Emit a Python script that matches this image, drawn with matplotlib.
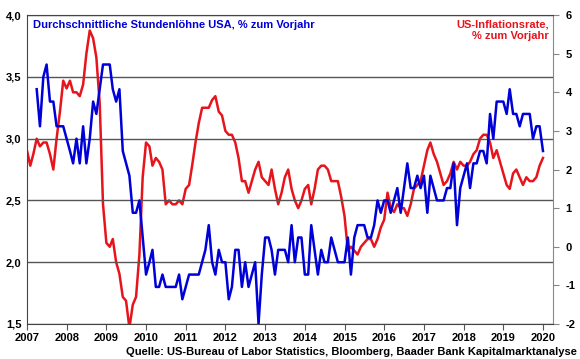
import matplotlib
matplotlib.use('Agg')
import matplotlib.pyplot as plt
import matplotlib.dates as mdates
from matplotlib.ticker import FuncFormatter, MultipleLocator
import pandas as pd

plt.rcParams['font.family'] = ['Liberation Sans', 'DejaVu Sans']
plt.rcParams['font.weight'] = 'bold'

# Durchschnittliche Stundenlöhne USA, % zum Vorjahr (Mär 2007 - Dez 2019)
loehne = [3.4, 3.1, 3.5, 3.6, 3.3, 3.3, 3.1, 3.1, 3.1, 3.0,
          2.9, 2.8, 3.0, 2.8, 3.1, 2.8, 3.0, 3.3, 3.2, 3.4, 3.6, 3.6,
          3.6, 3.4, 3.3, 3.4, 2.9, 2.8, 2.7, 2.4, 2.4, 2.5, 2.2, 1.9,
          2.0, 2.1, 1.8, 1.8, 1.9, 1.8, 1.8, 1.8, 1.8, 1.9, 1.7, 1.8,
          1.9, 1.9, 1.9, 1.9, 2.0, 2.1, 2.3, 2.0, 1.9, 2.1, 2.0, 2.0,
          1.7, 1.8, 2.1, 2.1, 1.8, 2.0, 1.8, 1.9, 2.0, 1.5, 1.9, 2.2,
          2.2, 2.1, 1.9, 2.1, 2.1, 2.1, 2.0, 2.3, 2.0, 2.2, 2.2, 1.9,
          1.9, 2.3, 2.1, 1.9, 2.1, 2.0, 2.0, 2.2, 2.1, 2.0, 2.0, 2.0,
          2.2, 1.9, 2.2, 2.3, 2.3, 2.3, 2.2, 2.2, 2.3, 2.5, 2.4, 2.5,
          2.5, 2.4, 2.5, 2.6, 2.4, 2.6, 2.8, 2.6, 2.6, 2.7, 2.6, 2.7,
          2.4, 2.7, 2.6, 2.5, 2.5, 2.5, 2.6, 2.6, 2.8, 2.3, 2.6, 2.7,
          2.8, 2.6, 2.8, 2.8, 2.9, 2.9, 2.8, 3.2, 3.0, 3.3, 3.3, 3.3,
          3.2, 3.4, 3.2, 3.2, 3.1, 3.2, 3.2, 3.2, 3.0, 3.1, 3.1, 2.9]

# US-Inflationsrate, % zum Vorjahr (Dez 2006 - Dez 2019)
inflation = [2.5,
             2.1, 2.4, 2.8, 2.6, 2.7, 2.7, 2.4, 2.0, 2.8, 3.5, 4.3, 4.1,
             4.3, 4.0, 4.0, 3.9, 4.2, 5.0, 5.6, 5.4, 4.9, 3.7, 1.1, 0.1,
             0.0, 0.2, -0.4, -0.7, -1.3, -1.4, -2.1, -1.5, -1.3, -0.2, 1.8, 2.7,
             2.6, 2.1, 2.3, 2.2, 2.0, 1.1, 1.2, 1.1, 1.1, 1.2, 1.1, 1.5,
             1.6, 2.1, 2.7, 3.2, 3.6, 3.6, 3.6, 3.8, 3.9, 3.5, 3.4, 3.0,
             2.9, 2.9, 2.7, 2.3, 1.7, 1.7, 1.4, 1.7, 2.0, 2.2, 1.8, 1.7,
             1.6, 2.0, 1.5, 1.1, 1.4, 1.8, 2.0, 1.5, 1.2, 1.0, 1.2, 1.5,
             1.6, 1.1, 1.5, 2.0, 2.1, 2.1, 2.0, 1.7, 1.7, 1.7, 1.3, 0.8,
             -0.1, 0.0, -0.1, -0.2, 0.0, 0.1, 0.2, 0.2, 0.0, 0.2, 0.5, 0.7,
             1.4, 1.0, 0.9, 1.1, 1.0, 1.0, 0.8, 1.1, 1.5, 1.6, 1.7, 2.1,
             2.5, 2.7, 2.4, 2.2, 1.9, 1.6, 1.7, 1.9, 2.2, 2.0, 2.2, 2.1,
             2.1, 2.2, 2.4, 2.5, 2.8, 2.9, 2.9, 2.7, 2.3, 2.5, 2.2, 1.9,
             1.6, 1.5, 1.9, 2.0, 1.8, 1.6, 1.8, 1.7, 1.7, 1.8, 2.1, 2.3]

# Monatsendwerte
datum_inf = pd.date_range('2007-01-01', periods=len(inflation), freq='MS') - pd.Timedelta(days=1)
datum_loehne = pd.date_range('2007-04-01', periods=len(loehne), freq='MS') - pd.Timedelta(days=1)

blau = '#0000d8'
rot = '#e8141c'

fig = plt.figure(figsize=(5.8, 3.59), dpi=100, facecolor='white')
ax = fig.add_axes([0.0466, 0.0975, 0.9068, 0.8605])
ax2 = ax.twinx()

ax.plot(datum_loehne, loehne, color=blau, lw=1.8, zorder=3)
ax2.plot(datum_inf, inflation, color=rot, lw=1.8)

# Löhne vor die Inflation legen
ax.set_zorder(ax2.get_zorder() + 1)
ax.patch.set_visible(False)

ax.set_xlim(pd.Timestamp('2007-01-01'), pd.Timestamp('2020-04-01'))
ax.set_ylim(1.5, 4.0)
ax2.set_ylim(-2, 6)

ax.yaxis.set_major_locator(MultipleLocator(0.5))
ax.yaxis.set_major_formatter(FuncFormatter(lambda v, p: ('%.1f' % v).replace('.', ',')))
ax2.yaxis.set_major_locator(MultipleLocator(1))
ax2.yaxis.set_major_formatter(FuncFormatter(lambda v, p: '%d' % v))

ax.xaxis.set_major_locator(mdates.YearLocator())
ax.xaxis.set_major_formatter(mdates.DateFormatter('%Y'))

ax.grid(axis='y', color='#555555', lw=1.0)
ax.set_axisbelow(True)

ax.tick_params(axis='y', length=0, pad=4, labelsize=8)
ax.tick_params(axis='x', length=4, width=0.8, color='#555555', pad=2.5, labelsize=8)
ax2.tick_params(axis='y', length=4, width=0.8, color='#888888', pad=5, labelsize=8)

for s in ['left', 'bottom', 'top']:
    ax.spines[s].set_color('#444444')
ax.spines['right'].set_visible(False)
for s in ['left', 'bottom', 'top']:
    ax2.spines[s].set_visible(False)
ax2.spines['right'].set_color('#888888')

ax.text(0.012, 0.985, 'Durchschnittliche Stundenlöhne USA, % zum Vorjahr',
        transform=ax.transAxes, color=blau, fontsize=8, ha='left', va='top')
ax.text(0.992, 0.985, 'US-Inflationsrate,\n% zum Vorjahr', transform=ax.transAxes,
        color=rot, fontsize=8, ha='right', va='top', linespacing=1.1)
fig.text(0.995, 0.012, 'Quelle: US-Bureau of Labor Statistics, Bloomberg, Baader Bank Kapitalmarktanalyse',
         fontsize=8, ha='right', va='baseline')

fig.savefig('out.png', dpi=100)
